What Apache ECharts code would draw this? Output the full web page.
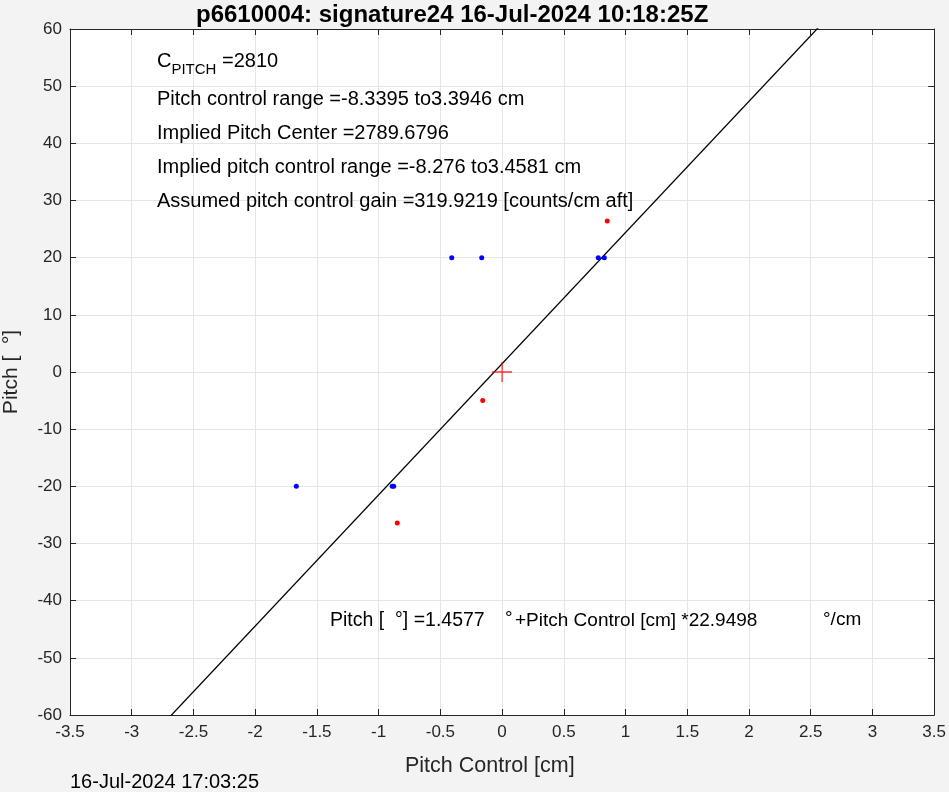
<!DOCTYPE html>
<html><head><meta charset="utf-8">
<script src="https://cdn.jsdelivr.net/npm/echarts@6/dist/echarts.min.js"></script>
<style>html,body{margin:0;padding:0;background:#f3f3f3}#c{width:949px;height:792px}</style>
</head><body><div id="c"></div>
<script>
const titleText = 'p6610004: signature24 16-Jul-2024 10:18:25Z';
const xTicks = [-3.5, 3.5, 0.5];
const yTicks = [-60, 60, 10];
const blueX = [-0.408, -0.165, 0.779, 0.828, -1.667, -0.890, -0.878];
const blueY = [20, 20, 20, 20, -20, -20, -20];
const redX = [0.852, -0.849, -0.157];
const redY = [26.4, -26.4, -5.0];
const fitIntercept = 1.4577;
const fitSlope = 22.9498;
const lineX = [-2.7, 2.6];
const annotations = [
  'Pitch control range =-8.3395 to3.3946 cm',
  'Implied Pitch Center =2789.6796',
  'Implied pitch control range =-8.276 to3.4581 cm',
  'Assumed pitch control gain =319.9219 [counts/cm aft]'
];

const chart = echarts.init(document.getElementById('c'), null, {renderer: 'canvas'});
const font = '"Liberation Sans", Arial, Helvetica, sans-serif';
const axisCol = '#262626';
const gridCol = '#e5e5e5';
const blue = blueX.map((x, i) => [x, blueY[i]]);
const red = redX.map((x, i) => [x, redY[i]]);
const line = lineX.map(x => [x, fitIntercept + fitSlope * x]);

function ax(type, pos, show, t) {
  return {type: 'value', position: pos, min: t[0], max: t[1], interval: t[2],
    axisLine: {show: true, onZero: false, lineStyle: {color: axisCol, width: 1}},
    axisTick: {show: true, inside: true, length: 6, lineStyle: {color: axisCol}},
    axisLabel: {show: show, color: axisCol, fontSize: 17, fontFamily: font, margin: type === 'x' ? 9 : 8},
    splitLine: {show: show, lineStyle: {color: gridCol, width: 1}}};
}
const T = (x, y, text, size, extra) => Object.assign({type: 'text', x: x, y: y, z: 100,
  style: Object.assign({text: text, font: size + 'px ' + font, fill: '#000', textVerticalAlign: 'middle'}, extra || {})});

chart.setOption({
  backgroundColor: '#f3f3f3',
  animation: false,
  title: {text: titleText, left: 191, top: -2,
    textStyle: {fontSize: 24, fontWeight: 'bold', color: '#000', fontFamily: font}},
  grid: {left: 70, right: 12, top: 29, bottom: 77, show: true, backgroundColor: '#fff', borderWidth: 0},
  xAxis: [ax('x', 'bottom', true, xTicks), ax('x', 'top', false, xTicks)],
  yAxis: [ax('y', 'left', true, yTicks), ax('y', 'right', false, yTicks)],
  series: [
    {type: 'line', data: line, showSymbol: false, lineStyle: {color: '#000', width: 1.3}, z: 3},
    {type: 'scatter', data: blue, symbol: 'circle', symbolSize: 5, itemStyle: {color: '#0000ff', opacity: 1}, z: 4},
    {type: 'scatter', data: red, symbol: 'circle', symbolSize: 5, itemStyle: {color: '#ff0000', opacity: 1}, z: 4},
    {type: 'scatter', data: [[0, 0]], symbol: 'path://M0,-10L0,10M-10,0L10,0', symbolSize: 20,
      itemStyle: {color: 'none', borderColor: '#ff0000', borderWidth: 1.3}, z: 5}
  ],
  graphic: [
    T(405, 766, 'Pitch Control [cm]', 21.5, {fill: axisCol}),
    Object.assign(T(11, 372, 'Pitch [  °]', 21, {fill: axisCol, textAlign: 'center'}), {rotation: Math.PI / 2}),
    T(70, 782, '16-Jul-2024 17:03:25', 20),
    {type: 'text', x: 157, y: 50, z: 100, style: {
      text: '{a|C}{b|PITCH}{a| =2810}',
      rich: {a: {font: '20px ' + font, fill: '#000', verticalAlign: 'top', height: 22},
             b: {font: '15px ' + font, fill: '#000', padding: [12, 0, 0, 0], verticalAlign: 'top'}}}},
    T(157, 99, annotations[0], 20),
    T(157, 133, annotations[1], 20),
    T(157, 167, annotations[2], 20),
    T(157, 201, annotations[3], 20),
    T(330, 621, 'Pitch [  °] =1.4577', 19.5),
    T(505, 619, '°', 19),
    T(515, 621, '+Pitch Control [cm] *22.9498', 19),
    T(823, 620, '°/cm', 19)
  ]
});
</script></body></html>
